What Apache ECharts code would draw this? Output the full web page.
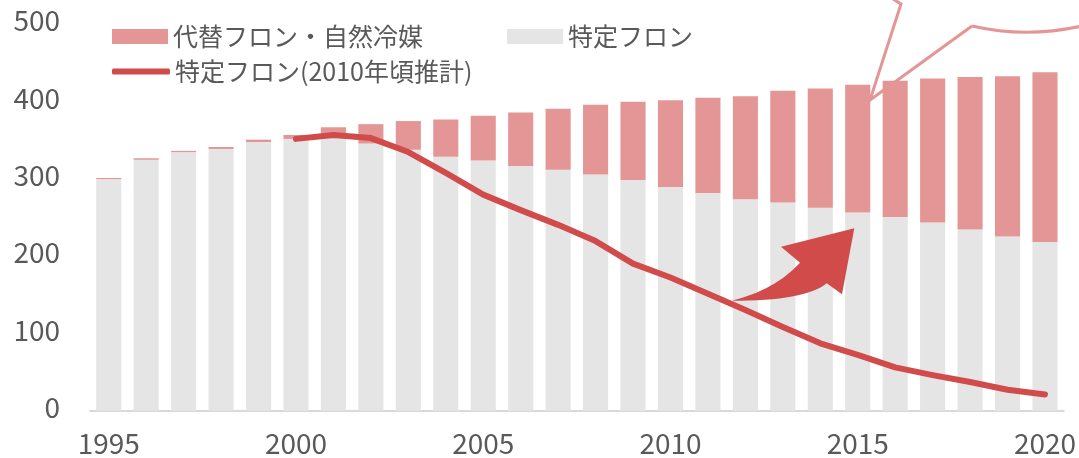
<!DOCTYPE html>
<html>
<head>
<meta charset="utf-8">
<script src="https://cdn.jsdelivr.net/npm/echarts@6/dist/echarts.min.js"></script>
<style>
  html, body { margin: 0; padding: 0; background: #fff; }
  #chart { width: 1079px; height: 458px; }
</style>
</head>
<body>
<div id="chart"></div>
<script>
const years = ['1995', '1996', '1997', '1998', '1999', '2000', '2001', '2002', '2003', '2004',
  '2005', '2006', '2007', '2008', '2009', '2010', '2011', '2012', '2013', '2014',
  '2015', '2016', '2017', '2018', '2019', '2020']

// 特定フロン (bottom, gray)
const specificCfc = [299, 324, 334, 338, 347, 351, 352, 345, 337, 328,
  323, 316, 311, 305, 298, 289, 281, 273, 269, 262,
  256, 250, 243, 234, 225, 218]

// 代替フロン・自然冷媒 (top, pink)
const alternative = [1.5, 2, 1.5, 2.5, 3, 5, 14, 25, 37, 48,
  58, 69, 79, 90, 101, 112, 123, 133, 144, 154,
  165, 176, 186, 197, 207, 219]

// 特定フロン(2010年頃推計)
const estimate2010 = [null, null, null, null, null, 351, 356, 352, 334, 307,
  279, 259, 240, 219, 190, 172, 151, 130, 108, 87,
  72, 56, 46, 37, 27, 21]

const yTicks = [0, 100, 200, 300, 400, 500]

const FONT = '"Noto Sans CJK JP", "Noto Sans", sans-serif'
const TEXT = '#595959'
const PINK = '#e49595'
const GRAY = '#e5e5e5'
const RED = '#d14b4b'

// sample a quadratic curve for the arrow outline
const quad = (p0, c, p1, n) => {
  const pts = []
  for (let i = 0; i <= n; i++) {
    const t = i / n, u = 1 - t
    pts.push([u * u * p0[0] + 2 * u * t * c[0] + t * t * p1[0],
      u * u * p0[1] + 2 * u * t * c[1] + t * t * p1[1]])
  }
  return pts
}

const arrowPoints = [
  ...quad([731.7, 300.7], [805, 301], [826.7, 283.3], 16),
  [842, 294.3], [854.3, 228.3], [781, 246.7],
  ...quad([800, 262.7], [775, 290], [731.7, 300.7], 16)
]

const chart = echarts.init(document.getElementById('chart'))

const option = {
  backgroundColor: '#fff',
  animation: false,
  textStyle: { fontFamily: FONT },
  grid: { left: 90, right: 12, top: 23.5, bottom: 47.3 },
  legend: [
    {
      data: ['代替フロン・自然冷媒', '特定フロン'],
      left: 107,
      top: 19,
      itemWidth: 56,
      itemHeight: 15,
      itemGap: 84,
      icon: 'rect',
      textStyle: { fontSize: 25, color: TEXT, fontFamily: FONT }
    },
    {
      data: [{ name: '特定フロン(2010年頃推計)', icon: 'roundRect' }],
      left: 107,
      top: 54,
      itemWidth: 58,
      itemHeight: 6,
      textStyle: { fontSize: 25, color: TEXT, fontFamily: FONT }
    }
  ],
  xAxis: {
    type: 'category',
    data: years,
    axisTick: { show: false },
    axisLine: { lineStyle: { color: '#d9d9d9', width: 2 } },
    axisLabel: {
      interval: 4,
      color: TEXT,
      fontSize: 28,
      fontFamily: FONT,
      margin: 19
    }
  },
  yAxis: {
    type: 'value',
    min: yTicks[0],
    max: yTicks[yTicks.length - 1],
    interval: 100,
    splitLine: { show: false },
    axisLine: { show: false },
    axisTick: { show: false },
    axisLabel: {
      color: TEXT,
      fontSize: 28,
      fontFamily: FONT,
      margin: 30,
      verticalAlign: 'bottom',
      lineHeight: 6
    }
  },
  series: [
    {
      name: '特定フロン',
      type: 'bar',
      stack: 'total',
      data: specificCfc,
      barCategoryGap: '33%',
      itemStyle: { color: GRAY }
    },
    {
      name: '代替フロン・自然冷媒',
      type: 'bar',
      stack: 'total',
      data: alternative,
      itemStyle: { color: PINK }
    },
    {
      name: '特定フロン(2010年頃推計)',
      type: 'line',
      data: estimate2010,
      symbol: 'none',
      z: 5,
      itemStyle: { color: RED },
      lineStyle: { color: RED, width: 6, cap: 'round', join: 'round' }
    }
  ],
  graphic: [
    // callout bubble outline (clipped at top)
    {
      type: 'polyline',
      z: 10,
      shape: { points: [[893, -1], [901, 4], [870, 100], [972, 26]] },
      style: { fill: null, stroke: PINK, lineWidth: 3 }
    },
    {
      type: 'bezierCurve',
      z: 10,
      shape: { x1: 972, y1: 26, cpx1: 1026, cpy1: 38.5, x2: 1082, y2: 26 },
      style: { fill: null, stroke: PINK, lineWidth: 3 }
    },
    // curved arrow
    {
      type: 'polygon',
      z: 10,
      shape: { points: arrowPoints },
      style: { fill: RED }
    }
  ]
}

chart.setOption(option)
</script>
</body>
</html>
